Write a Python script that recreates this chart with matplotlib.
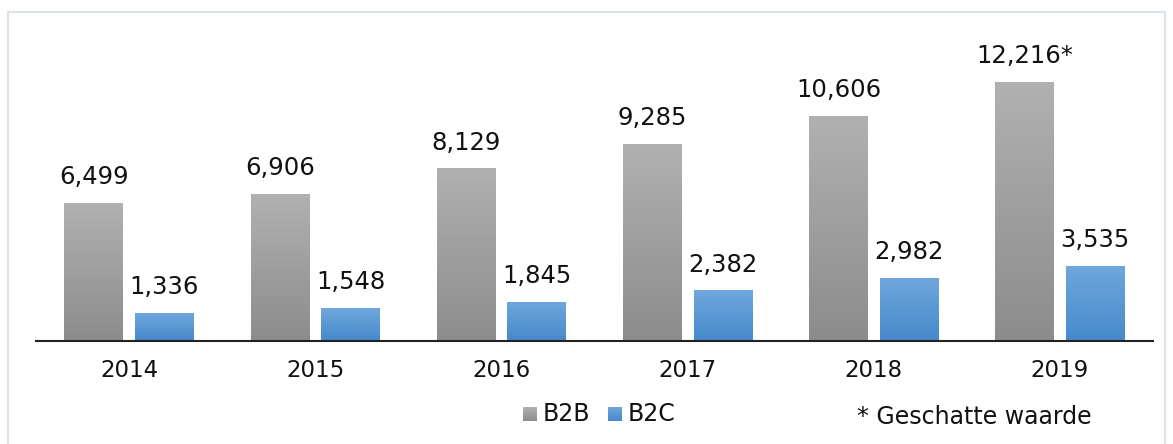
import numpy as np
import matplotlib.pyplot as plt
from matplotlib.colors import to_rgb
from matplotlib.patches import Rectangle

jaren = ["2014", "2015", "2016", "2017", "2018", "2019"]
b2b = [6499, 6906, 8129, 9285, 10606, 12216]
b2c = [1336, 1548, 1845, 2382, 2982, 3535]
b2b_labels = ["6,499", "6,906", "8,129", "9,285", "10,606", "12,216*"]
b2c_labels = ["1,336", "1,548", "1,845", "2,382", "2,982", "3,535"]

W, H = 1173, 444
fig = plt.figure(figsize=(W / 100, H / 100), dpi=100)
plt.rcParams['font.family'] = ['DejaVu Sans']

# lichte rand om de grafiek
fig.patches.append(Rectangle((8 / W, -0.02), (1165 - 8) / W, 1 - 12 / H + 0.02,
                             transform=fig.transFigure, fill=False,
                             edgecolor="#dde3ea", linewidth=1.5))

ax = fig.add_axes([36 / W, 1 - 341 / H, (1153 - 36) / W, (341 - 20) / H])

x = np.arange(len(jaren))
breedte = 0.315
offset = 0.19


def verloop_img(boven, onder, n=256):
    t = np.linspace(0, 1, n).reshape(-1, 1, 1)
    return np.array(to_rgb(boven)) * (1 - t) + np.array(to_rgb(onder)) * t


def verloop(bars, boven, onder):
    # verticaal kleurverloop in elke balk
    img = verloop_img(boven, onder)
    for bar in bars:
        x0, y0 = bar.get_x(), bar.get_y()
        w, h = bar.get_width(), bar.get_height()
        bar.set_facecolor("none")
        im = ax.imshow(img, extent=[x0, x0 + w, y0, y0 + h], aspect="auto",
                       origin="upper", zorder=2)
        im.set_clip_path(bar)


bars1 = ax.bar(x - offset, b2b, breedte, color="#a0a0a0", linewidth=0, zorder=2)
bars2 = ax.bar(x + offset, b2c, breedte, color="#5b9bd5", linewidth=0, zorder=2)
verloop(bars1, "#b1b1b1", "#8c8c8c")
verloop(bars2, "#70a7dd", "#4589cb")
ax.set_xlim(-0.5, len(jaren) - 0.5)
ax.set_ylim(0, (341 - 20) / 0.02123)

# waarden boven de balken
for xi, v, t in zip(x, b2b, b2b_labels):
    ax.annotate(t, (xi - offset, v), xytext=(0, 10), textcoords="offset points",
                ha="center", va="bottom", fontsize=17.5, color="#111111")
for xi, v, t in zip(x, b2c, b2c_labels):
    ax.annotate(t, (xi + offset, v), xytext=(0, 10), textcoords="offset points",
                ha="center", va="bottom", fontsize=17.5, color="#111111")

for s in ["top", "right", "left"]:
    ax.spines[s].set_visible(False)
ax.spines["bottom"].set_color("#222222")
ax.spines["bottom"].set_linewidth(1.5)
ax.set_yticks([])
ax.set_xticks(x)
ax.set_xticklabels(jaren, fontsize=16.5, color="#111111")
ax.tick_params(axis="x", length=0, pad=13)

# legenda
for xs, naam, c1, c2 in [(523, "B2B", "#b1b1b1", "#8c8c8c"), (608, "B2C", "#70a7dd", "#4589cb")]:
    lax = fig.add_axes([xs / W, 1 - 421 / H, 14 / W, 14 / H])
    lax.imshow(verloop_img(c1, c2, 32), aspect="auto")
    lax.axis("off")
    fig.text((xs + 20) / W, 1 - 414 / H, naam, fontsize=17, va="center", ha="left", color="#111111")

fig.text(857 / W, 1 - 417 / H, "* Geschatte waarde", fontsize=17, va="center", ha="left", color="#111111")

fig.savefig("out.png", dpi=100, facecolor="white")
